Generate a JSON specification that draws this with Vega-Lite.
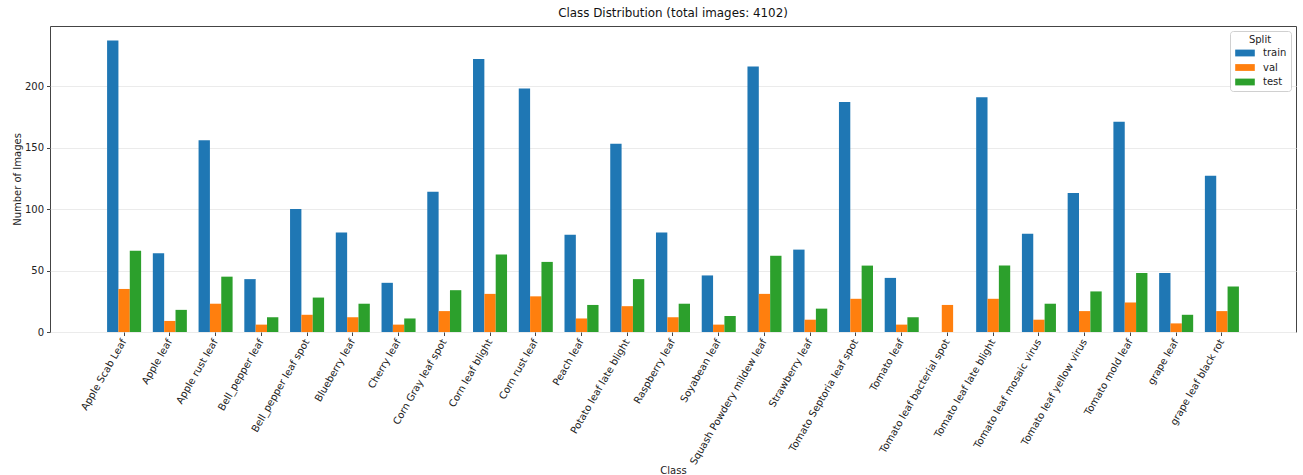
{
  "$schema": "https://vega.github.io/schema/vega-lite/v6.json",
  "autosize": "none",
  "width": 1246,
  "height": 306,
  "padding": {"left": 50, "top": 26, "right": 7, "bottom": 143},
  "background": "white",
  "title": {
    "text": "Class Distribution (total images: 4102)",
    "font": "DejaVu Sans",
    "fontSize": 11.9,
    "fontWeight": "normal",
    "color": "#111",
    "anchor": "middle",
    "offset": 6
  },
  "config": {
    "font": "DejaVu Sans",
    "view": {"stroke": "#444", "strokeWidth": 1},
    "axis": {
      "labelFont": "DejaVu Sans",
      "titleFont": "DejaVu Sans",
      "labelColor": "#222",
      "titleColor": "#222",
      "titleFontWeight": "normal",
      "domain": false,
      "tickColor": "#444",
      "tickSize": 3.5
    }
  },
  "datasets": {
    "counts": [
      {"Class": "Apple Scab Leaf", "train": 237, "val": 35, "test": 66},
      {"Class": "Apple leaf", "train": 64, "val": 9, "test": 18},
      {"Class": "Apple rust leaf", "train": 156, "val": 23, "test": 45},
      {"Class": "Bell_pepper leaf", "train": 43, "val": 6, "test": 12},
      {"Class": "Bell_pepper leaf spot", "train": 100, "val": 14, "test": 28},
      {"Class": "Blueberry leaf", "train": 81, "val": 12, "test": 23},
      {"Class": "Cherry leaf", "train": 40, "val": 6, "test": 11},
      {"Class": "Corn Gray leaf spot", "train": 114, "val": 17, "test": 34},
      {"Class": "Corn leaf blight", "train": 222, "val": 31, "test": 63},
      {"Class": "Corn rust leaf", "train": 198, "val": 29, "test": 57},
      {"Class": "Peach leaf", "train": 79, "val": 11, "test": 22},
      {"Class": "Potato leaf late blight", "train": 153, "val": 21, "test": 43},
      {"Class": "Raspberry leaf", "train": 81, "val": 12, "test": 23},
      {"Class": "Soyabean leaf", "train": 46, "val": 6, "test": 13},
      {"Class": "Squash Powdery mildew leaf", "train": 216, "val": 31, "test": 62},
      {"Class": "Strawberry leaf", "train": 67, "val": 10, "test": 19},
      {"Class": "Tomato Septoria leaf spot", "train": 187, "val": 27, "test": 54},
      {"Class": "Tomato leaf", "train": 44, "val": 6, "test": 12},
      {"Class": "Tomato leaf bacterial spot", "train": 0, "val": 22, "test": 0},
      {"Class": "Tomato leaf late blight", "train": 191, "val": 27, "test": 54},
      {"Class": "Tomato leaf mosaic virus", "train": 80, "val": 10, "test": 23},
      {"Class": "Tomato leaf yellow virus", "train": 113, "val": 17, "test": 33},
      {"Class": "Tomato mold leaf", "train": 171, "val": 24, "test": 48},
      {"Class": "grape leaf", "train": 48, "val": 7, "test": 14},
      {"Class": "grape leaf black rot", "train": 127, "val": 17, "test": 37}
    ]
  },
  "data": {"name": "counts"},
  "transform": [
    {"fold": ["train", "val", "test"], "as": ["Split", "Count"]}
  ],
  "mark": {"type": "bar"},
  "encoding": {
    "x": {
      "field": "Class",
      "type": "nominal",
      "sort": null,
      "scale": {
        "domain": [" ", "Apple Scab Leaf", "Apple leaf", "Apple rust leaf", "Bell_pepper leaf", "Bell_pepper leaf spot", "Blueberry leaf", "Cherry leaf", "Corn Gray leaf spot", "Corn leaf blight", "Corn rust leaf", "Peach leaf", "Potato leaf late blight", "Raspberry leaf", "Soyabean leaf", "Squash Powdery mildew leaf", "Strawberry leaf", "Tomato Septoria leaf spot", "Tomato leaf", "Tomato leaf bacterial spot", "Tomato leaf late blight", "Tomato leaf mosaic virus", "Tomato leaf yellow virus", "Tomato mold leaf", "grape leaf", "grape leaf black rot", "  "],
        "paddingInner": 0.256,
        "paddingOuter": 0.248
      },
      "axis": {
        "title": "Class",
        "values": ["Apple Scab Leaf", "Apple leaf", "Apple rust leaf", "Bell_pepper leaf", "Bell_pepper leaf spot", "Blueberry leaf", "Cherry leaf", "Corn Gray leaf spot", "Corn leaf blight", "Corn rust leaf", "Peach leaf", "Potato leaf late blight", "Raspberry leaf", "Soyabean leaf", "Squash Powdery mildew leaf", "Strawberry leaf", "Tomato Septoria leaf spot", "Tomato leaf", "Tomato leaf bacterial spot", "Tomato leaf late blight", "Tomato leaf mosaic virus", "Tomato leaf yellow virus", "Tomato mold leaf", "grape leaf", "grape leaf black rot"],
        "titleFontSize": 10,
        "titleY": 138,
        "titleBaseline": "middle",
        "labelAngle": -60,
        "labelAlign": "right",
        "labelBaseline": "middle",
        "labelFontSize": 10,
        "labelPadding": 4,
        "labelLimit": 300,
        "grid": false
      }
    },
    "xOffset": {
      "field": "Split",
      "type": "nominal",
      "sort": ["train", "val", "test"],
      "scale": {"paddingInner": 0, "paddingOuter": 0}
    },
    "y": {
      "field": "Count",
      "type": "quantitative",
      "scale": {"domain": [0, 248.85], "nice": false, "zero": true},
      "axis": {
        "title": "Number of Images",
        "titleFontSize": 10,
        "titleX": -33,
        "titleBaseline": "middle",
        "values": [0, 50, 100, 150, 200],
        "labelFontSize": 10,
        "labelPadding": 3,
        "grid": true,
        "gridColor": "#ebebeb",
        "gridWidth": 1
      }
    },
    "color": {
      "field": "Split",
      "type": "nominal",
      "sort": ["train", "val", "test"],
      "scale": {"domain": ["train", "val", "test"], "range": ["#1f77b4", "#ff7f0e", "#2ca02c"]},
      "legend": {
        "title": "Split",
        "orient": "top-right",
        "offset": 5,
        "padding": 4,
        "fillColor": "white",
        "strokeColor": "#d0d0d0",
        "cornerRadius": 3,
        "titleFontSize": 10,
        "titleFontWeight": "normal",
        "titleAnchor": "middle",
        "titleColor": "#222",
        "titlePadding": 3,
        "labelFontSize": 10,
        "labelColor": "#222",
        "symbolType": "M-2.45,-0.85H2.45V0.85H-2.45Z",
        "symbolSize": 64,
        "symbolOffset": 6,
        "labelOffset": 13,
        "symbolStrokeWidth": 0,
        "symbolOpacity": 1,
        "rowPadding": 4.5
      }
    }
  }
}
